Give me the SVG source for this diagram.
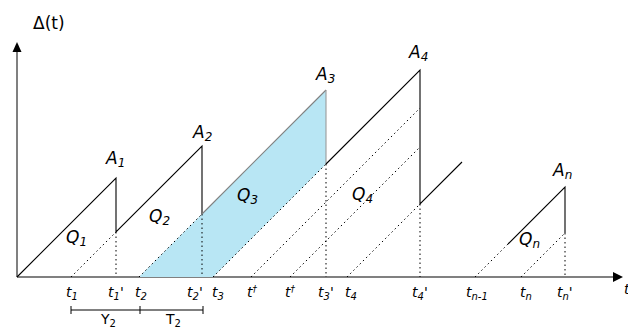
<svg xmlns="http://www.w3.org/2000/svg" width="628" height="329" viewBox="0 0 628 329">
<defs>
<style>
.ax{stroke:#808080;stroke-width:2;fill:none}
.s{stroke:#000;stroke-width:1.1;fill:none}
.d{stroke:#000;stroke-width:1;fill:none;stroke-dasharray:1.5 3}
.lab{font-family:"DejaVu Sans",sans-serif;font-style:italic;font-size:17px;fill:#000}
.tl{font-family:"DejaVu Sans",sans-serif;font-style:italic;font-size:14px;fill:#000}
.up{font-family:"DejaVu Sans",sans-serif;font-size:14px;fill:#000}
.big{font-family:"DejaVu Sans",sans-serif;font-size:17px;fill:#000}
.br{stroke:#000;stroke-width:1;fill:none}
</style>
</defs>
<g id="axes">
<line class="ax" x1="17" y1="277" x2="17" y2="48"/>
<path d="M12.5,52 L17,42 L21.5,52 Z" fill="#000"/>
<line class="ax" x1="17" y1="277" x2="614" y2="277"/>
<path d="M613,272 L623,277 L613,282 Z" fill="#000"/>
<text class="big" x="33" y="29">Δ(t)</text>
<text class="tl" x="624" y="294">t</text>
</g>
<g id="shade">
<polygon points="139,277 202,214 326,90 326,164 213,277" fill="#b8e6f4"/>
</g>
<g id="connectors">
<polyline class="s" points="17,277 116,178 116,232 202,146 202,214"/>
<line x1="202" y1="214" x2="326" y2="90" stroke="#808080" stroke-width="1.1"/>
<line x1="326" y1="90" x2="326" y2="164" stroke="#9a9a9a" stroke-width="1.1"/>
<polyline class="s" points="326,164 420,70 420,204 462,162"/>
<polyline class="s" points="508,244 565,187 565,233"/>
<line class="d" x1="71" y1="277" x2="116" y2="232"/>
<line class="d" x1="116" y1="232" x2="116" y2="277"/>
<line class="d" x1="139" y1="277" x2="202" y2="214"/>
<line class="d" x1="202" y1="214" x2="202" y2="277"/>
<line class="d" x1="213" y1="277" x2="326" y2="164"/>
<line class="d" x1="326" y1="164" x2="326" y2="277"/>
<line class="d" x1="251" y1="277" x2="420" y2="108"/>
<line class="d" x1="290" y1="277" x2="420" y2="147"/>
<line class="d" x1="347" y1="277" x2="420" y2="204"/>
<line class="d" x1="420" y1="204" x2="420" y2="277"/>
<line class="d" x1="475" y1="277" x2="508" y2="244"/>
<line class="d" x1="521" y1="277" x2="565" y2="233"/>
<line class="d" x1="565" y1="233" x2="565" y2="277"/>
</g>
<g id="peaks">
<text class="lab" x="106" y="164">A<tspan font-size="12" dy="3">1</tspan></text>
<text class="lab" x="193" y="138">A<tspan font-size="12" dy="3">2</tspan></text>
<text class="lab" x="316" y="80">A<tspan font-size="12" dy="3">3</tspan></text>
<text class="lab" x="409" y="58">A<tspan font-size="12" dy="3">4</tspan></text>
<text class="lab" x="553" y="176">A<tspan font-size="12" dy="3">n</tspan></text>
</g>
<g id="areas">
<text class="lab" x="66" y="243">Q<tspan font-size="12" dy="3">1</tspan></text>
<text class="lab" x="149" y="222">Q<tspan font-size="12" dy="3">2</tspan></text>
<text class="lab" x="237" y="201">Q<tspan font-size="12" dy="3">3</tspan></text>
<text class="lab" x="352" y="200">Q<tspan font-size="12" dy="3">4</tspan></text>
<text class="lab" x="519" y="245">Q<tspan font-size="12" dy="3">n</tspan></text>
</g>
<g id="ticks">
<text class="tl" x="66" y="297">t<tspan font-size="10" dy="3">1</tspan></text>
<text class="tl" x="108" y="297">t<tspan font-size="10" dy="3">1</tspan><tspan dy="-3">'</tspan></text>
<text class="tl" x="135" y="297">t<tspan font-size="10" dy="3">2</tspan></text>
<text class="tl" x="187" y="297">t<tspan font-size="10" dy="3">2</tspan><tspan dy="-3">'</tspan></text>
<text class="tl" x="212" y="297">t<tspan font-size="10" dy="3">3</tspan></text>
<text class="tl" x="247" y="297">t<tspan font-size="9" dy="-5">†</tspan></text>
<text class="tl" x="285" y="297">t<tspan font-size="9" dy="-5">†</tspan></text>
<text class="tl" x="318" y="297">t<tspan font-size="10" dy="3">3</tspan><tspan dy="-3">'</tspan></text>
<text class="tl" x="345" y="297">t<tspan font-size="10" dy="3">4</tspan></text>
<text class="tl" x="412" y="297">t<tspan font-size="10" dy="3">4</tspan><tspan dy="-3">'</tspan></text>
<text class="tl" x="466" y="297">t<tspan font-size="10" dy="3">n-1</tspan></text>
<text class="tl" x="520" y="297">t<tspan font-size="10" dy="3">n</tspan></text>
<text class="tl" x="557" y="297">t<tspan font-size="10" dy="3">n</tspan><tspan dy="-3">'</tspan></text>
</g>
<g id="brackets">
<path class="br" d="M71,310 H203 M71,306 V314 M140,306 V314 M203,306 V314"/>
<text class="up" x="101" y="324">Y<tspan font-size="10" dy="3">2</tspan></text>
<text class="up" x="166" y="324">T<tspan font-size="10" dy="3">2</tspan></text>
</g>
</svg>
